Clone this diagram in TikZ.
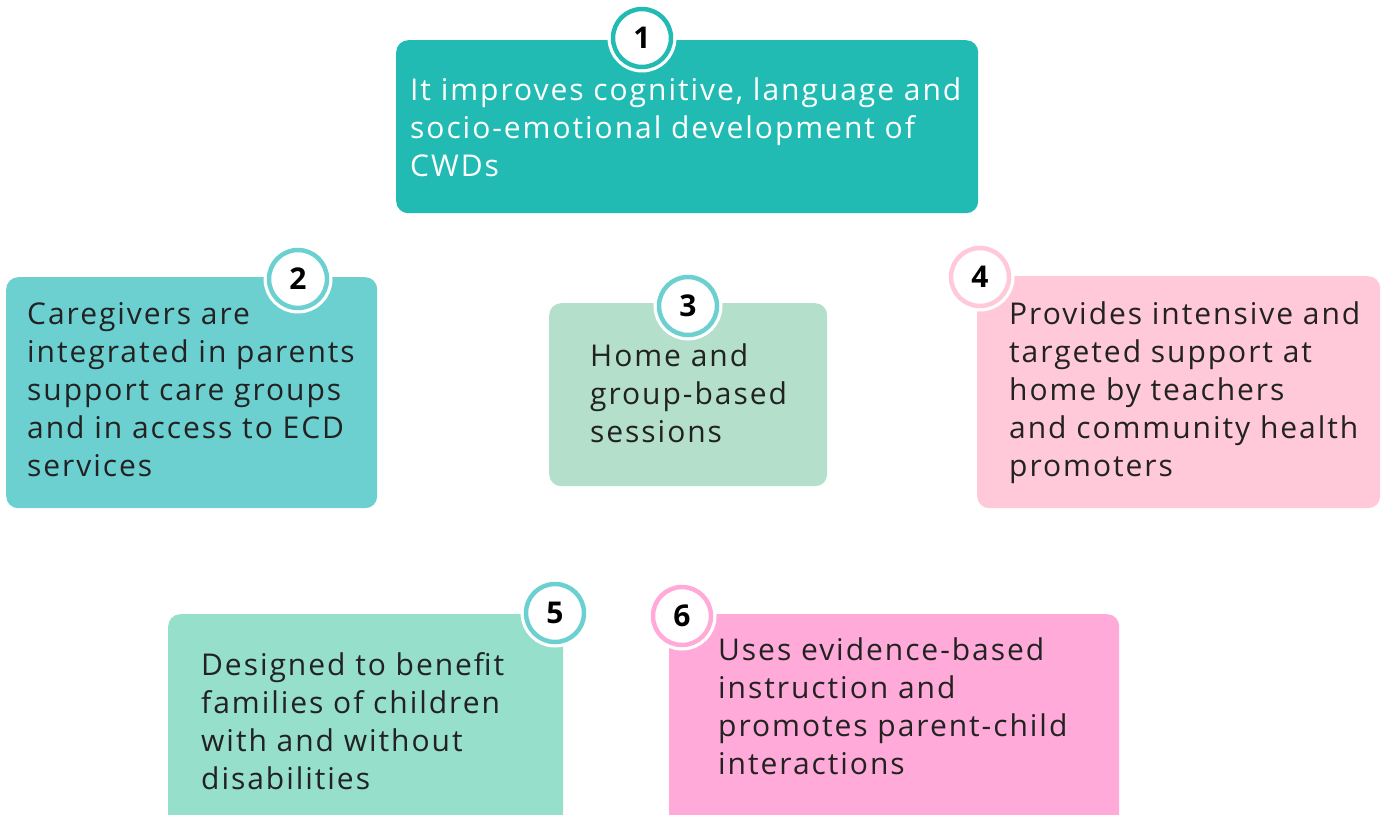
\documentclass[tikz,border=0pt]{standalone}
\usepackage{fontspec}
\setmainfont{Open Sans}[LetterSpace=6.5]
\definecolor{tealA}{HTML}{22BBB3}
\definecolor{tealB}{HTML}{6DD0D0}
\definecolor{mintA}{HTML}{B3DFCB}
\definecolor{mintB}{HTML}{96DFCA}
\definecolor{pinkA}{HTML}{FFC9D9}
\definecolor{pinkB}{HTML}{FFAAD9}
\definecolor{ink}{HTML}{222222}
\begin{document}
\begin{tikzpicture}[x=1pt,y=-1pt,line join=round,
  card/.style={fill=#1,rounded corners=12pt,draw=none,inner sep=0pt,anchor=north west},
  blurb/.style={anchor=base west,inner sep=0pt,align=left,text=ink,
    font=\fontsize{30}{38}\selectfont},
  badge/.style={circle,fill=white,draw=#1,line width=4.5pt,minimum size=58pt,inner sep=0pt,
    preaction={draw=white,line width=11pt},font=\fontsize{30}{30}\selectfont\bfseries}]
\useasboundingbox (0,0) rectangle (1386,814);
\clip (0,0) rectangle (1386,814);
% coloured cards
\node[card=tealA,minimum width=582pt,minimum height=173pt] (c1) at (396,40) {};
\node[card=tealB,minimum width=371pt,minimum height=231pt] (c2) at (6,277) {};
\node[card=mintA,minimum width=278pt,minimum height=183pt] (c3) at (549,303) {};
\node[card=pinkA,minimum width=403pt,minimum height=232pt] (c4) at (977,276) {};
\node[card=mintB,minimum width=395pt,minimum height=230pt] (c5) at (168,614) {};
\node[card=pinkB,minimum width=450pt,minimum height=230pt] (c6) at (669,614) {};
% texts, anchored at the baseline of their last line
\node[blurb,text=white] (t1) at (410,176) {It improves cognitive, language and\\socio-emotional development of\\CWDs};
\node[blurb] (t2) at (27,476) {Caregivers are\\integrated in parents\\support care groups\\and in access to ECD\\services};
\node[blurb] (t3) at (590,442) {Home and\\group-based\\sessions};
\node[blurb] (t4) at (1009,476) {Provides intensive and\\targeted support at\\home by teachers\\and community health\\promoters};
\node[blurb] (t5) at (201,789) {Designed to benefit\\families of children\\with and without\\disabilities};
\node[blurb] (t6) at (718,774) {Uses evidence-based\\instruction and\\promotes parent-child\\interactions};
% numbered badges
\node[badge=tealA] (n1) at (642,38) {1};
\node[badge=tealB] (n2) at (298,279) {2};
\node[badge=tealB] (n3) at (688,306) {3};
\node[badge=pinkA] (n4) at (980,277) {4};
\node[badge=tealB] (n5) at (555,613) {5};
\node[badge=pinkB] (n6) at (682,616) {6};
\end{tikzpicture}
\end{document}
